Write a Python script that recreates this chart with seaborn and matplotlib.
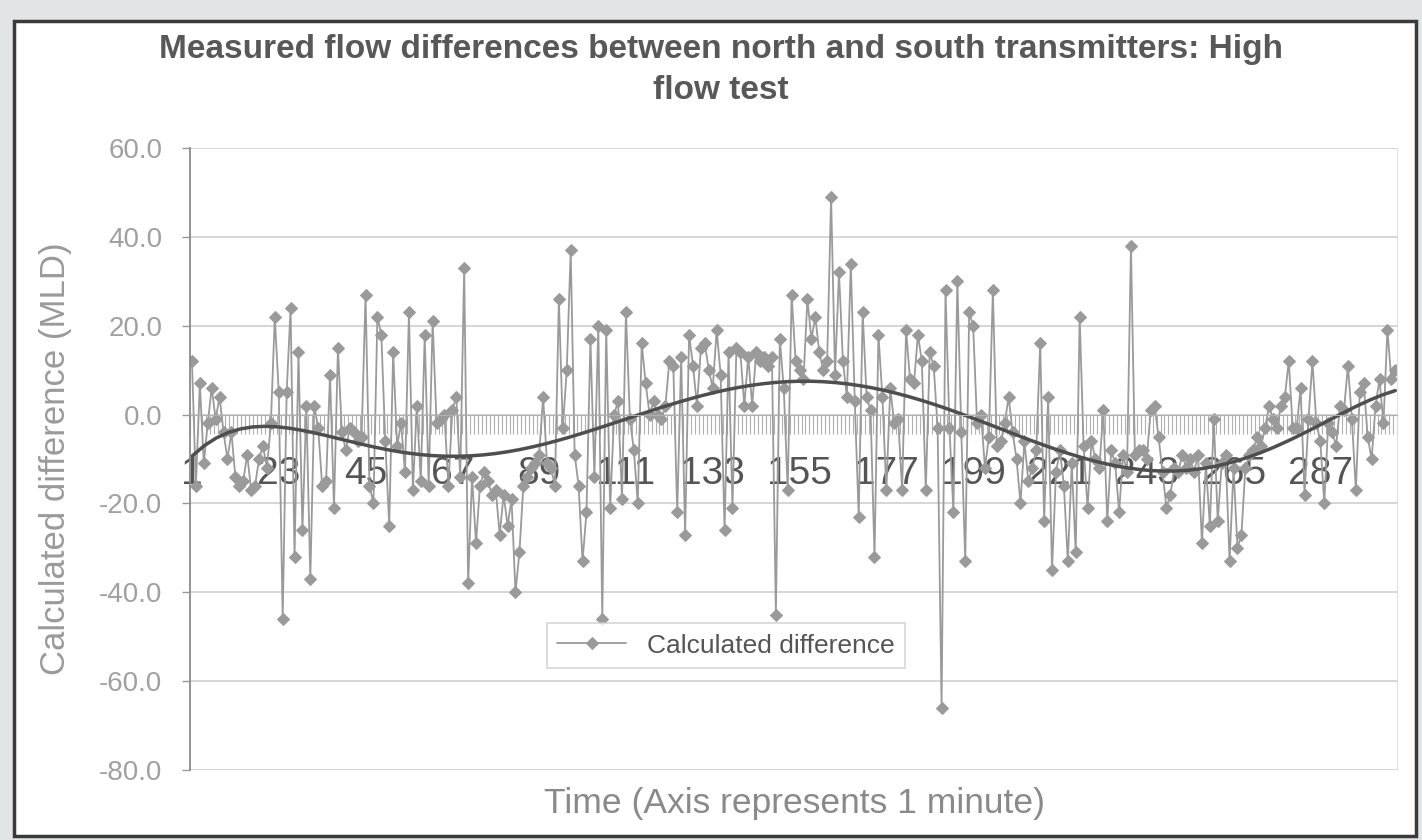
import numpy as np
import pandas as pd
import matplotlib.pyplot as plt
import seaborn as sns
from matplotlib.patches import Rectangle

sns.set_style('white')
plt.rcParams['font.family'] = ['Liberation Sans', 'DejaVu Sans']

# calculated difference per minute (MLD)
calc_diff = [
    12, -16, 7, -11, -2, 6, -1, 4, -4, -10,
    -4, -14, -16, -15, -9, -17, -16, -10, -7, -12,
    -2, 22, 5, -46, 5, 24, -32, 14, -26, 2,
    -37, 2, -3, -16, -15, 9, -21, 15, -4, -8,
    -3, -4, -6, -5, 27, -16, -20, 22, 18, -6,
    -25, 14, -7, -2, -13, 23, -17, 2, -15, 18,
    -16, 21, -2, -1, 0, -16, 1, 4, -14, 33,
    -38, -14, -29, -16, -13, -15, -18, -17, -27, -18,
    -25, -19, -40, -31, -16, -14, -12, -11, -9, 4,
    -11, -12, -16, 26, -3, 10, 37, -9, -16, -33,
    -22, 17, -14, 20, -46, 19, -21, 0, 3, -19,
    23, -1, -8, -20, 16, 7, 0, 3, 0, -1,
    2, 12, 11, -22, 13, -27, 18, 11, 2, 15,
    16, 10, 6, 19, 9, -26, 14, -21, 15, 14,
    2, 13, 2, 14, 12, 13, 11, 13, -45, 17,
    6, -17, 27, 12, 10, 8, 26, 17, 22, 14,
    10, 12, 49, 9, 32, 12, 4, 34, 3, -23,
    23, 4, 1, -32, 18, 4, -17, 6, -2, -1,
    -17, 19, 8, 7, 18, 12, -17, 14, 11, -3,
    -66, 28, -3, -22, 30, -4, -33, 23, 20, -2,
    0, -12, -5, 28, -7, -6, -2, 4, -4, -10,
    -20, -6, -15, -12, -8, 16, -24, 4, -35, -13,
    -8, -16, -33, -11, -31, 22, -7, -21, -6, -10,
    -12, 1, -24, -8, -11, -22, -9, -13, 38, -9,
    -8, -8, -10, 1, 2, -5, -13, -21, -18, -12,
    -13, -9, -12, -10, -13, -9, -29, -11, -25, -1,
    -24, -11, -9, -33, -12, -30, -27, -12, -9, -8,
    -5, -7, -3, 2, -1, -3, 2, 4, 12, -3,
    -3, 6, -18, -1, 12, -2, -6, -20, -2, -4,
    -7, 2, 1, 11, -1, -17, 5, 7, -5, -10,
    2, 8, -2, 19, 8, 10,
]
minutes = list(range(1, len(calc_diff) + 1))
x_labels = list(range(1, len(calc_diff) + 1, 22))
y_ticks = [-80, -60, -40, -20, 0, 20, 40, 60]

df = pd.DataFrame({'minute': minutes, 'diff': calc_diff})

fig = plt.figure(figsize=(14.22, 8.4), dpi=100)
fig.patch.set_facecolor('#e2e5e6')
fig.add_artist(Rectangle((0.0098, 0.005), 0.986, 0.97, transform=fig.transFigure,
                         facecolor='white', edgecolor='#3a3a3a', lw=2.5, zorder=-1))

ax = fig.add_axes([0.1336, 0.0833, 0.849, 0.7405])

sns.lineplot(data=df, x='minute', y='diff', ax=ax, color='#9a9a9a', linewidth=1.3,
             marker='D', markersize=6.5, markeredgecolor='#9a9a9a',
             label='Calculated difference')
# Excel style polynomial trendline
sns.regplot(data=df, x='minute', y='diff', ax=ax, order=6, scatter=False, ci=None,
            color='#4e4e4e', line_kws={'linewidth': 2.5})

ax.set_xlim(0.5, len(calc_diff) + 0.5)
ax.set_ylim(-80, 60)

# category axis crosses at zero
ax.spines['bottom'].set_position(('data', 0))
ax.spines['bottom'].set_color('#b0b0b0')
ax.spines['bottom'].set_linewidth(0.8)
ax.spines['top'].set_visible(False)
ax.spines['right'].set_color('#e0e0e0')
ax.spines['left'].set_color('#8a8a8a')
ax.spines['left'].set_linewidth(1.3)

ax.set_xticks(x_labels)
ax.set_xticklabels([str(v) for v in x_labels])
ax.set_xticks(np.arange(0.5, len(calc_diff) + 1, 1), minor=True)
ax.tick_params(axis='x', which='both', bottom=True)
ax.tick_params(axis='x', which='major', length=0, pad=30, labelsize=28, labelcolor='#555555')
ax.tick_params(axis='x', which='minor', length=14, width=0.8, color='#b0b0b0', direction='out')

ax.set_yticks(y_ticks)
ax.set_yticklabels([f'{v:.1f}' for v in y_ticks])
ax.tick_params(axis='y', left=True, length=6, width=1, color='#999999', direction='out',
               pad=14, labelsize=20, labelcolor='#a0a0a0')
ax.yaxis.grid(True, color='#cfcfcf', linewidth=1.2)
ax.xaxis.grid(False)

ax.set_xlabel('')
ax.set_ylabel('Calculated difference (MLD)', fontsize=25, color='#9a9a9a')
ax.yaxis.set_label_coords(-0.098, 0.5)

fig.text(0.507, 0.917,
         'Measured flow differences between north and south transmitters: High\nflow test',
         ha='center', va='center', fontsize=24, fontweight='bold', color='#585858',
         linespacing=1.4)
fig.text(0.559, 1 - 803 / 840, 'Time (Axis represents 1 minute)', ha='center', va='center',
         fontsize=25.5, color='#8a8a8a')

handles, labels = ax.get_legend_handles_labels()
keep = [i for i, l in enumerate(labels) if l == 'Calculated difference']
leg = ax.legend([handles[i] for i in keep], [labels[i] for i in keep],
                loc='center', bbox_to_anchor=(0.444, 0.2), fontsize=19,
                frameon=True, fancybox=False, edgecolor='#cccccc', labelcolor='#555555',
                handlelength=2.6, borderpad=0.4)
leg.get_frame().set_linewidth(1.2)

fig.savefig('out.png', dpi=100, facecolor=fig.get_facecolor())
